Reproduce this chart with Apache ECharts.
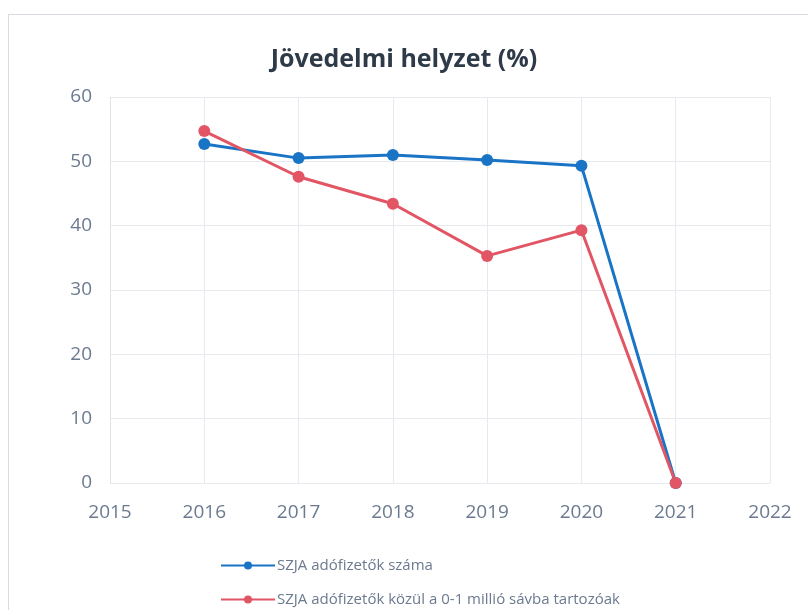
<!DOCTYPE html>
<html>
<head>
<meta charset="utf-8">
<script src="https://cdn.jsdelivr.net/npm/echarts@6/dist/echarts.min.js"></script>
<style>
  html, body { margin: 0; padding: 0; background: #fff; }
  #chart { width: 808px; height: 610px; }
  .frame { position: absolute; left: 8px; top: 14px; width: 820px; height: 640px; border: 1px solid #d8dce2; }
</style>
</head>
<body>
<div class="frame"></div>
<div id="chart" style="position:absolute;left:0;top:0;"></div>
<script>
// 年份与两条数据序列
const years = [2016, 2017, 2018, 2019, 2020, 2021];
const szjaCount = [52.7, 50.5, 51.0, 50.2, 49.3, 0];
const szjaLowBand = [54.7, 47.6, 43.4, 35.3, 39.3, 0];
const seriesNames = ['SZJA adófizetők száma', 'SZJA adófizetők közül a 0-1 millió sávba tartozóak'];

const chart = echarts.init(document.getElementById('chart'));

const toPairs = (vals) => years.map((y, i) => [y, vals[i]]);

chart.setOption({
  title: {
    text: 'Jövedelmi helyzet (%)',
    left: 'center',
    top: 42,
    textStyle: { fontFamily: 'Open Sans', fontSize: 25, fontWeight: 'bold', color: '#2e3a48' }
  },
  legend: {
    orient: 'vertical',
    left: 220,
    top: 558,
    height: 120,
    padding: 0,
    itemGap: 19,
    itemWidth: 54,
    itemHeight: 10,
    textStyle: { fontFamily: 'Open Sans', fontSize: 15, color: '#6b7a8f', padding: [0, 0, 0, -3] },
    data: seriesNames
  },
  grid: { left: 110, right: 38, top: 97, bottom: 127 },
  xAxis: {
    type: 'value',
    min: 2015,
    max: 2022,
    interval: 1,
    axisLine: { show: false },
    axisTick: { show: false },
    splitLine: { lineStyle: { color: '#e6e9ee' } },
    axisLabel: { fontFamily: 'Open Sans', fontSize: 19, color: '#6b7a8f', margin: 20, formatter: v => String(v) }
  },
  yAxis: {
    type: 'value',
    min: 0,
    max: 60,
    interval: 10,
    axisLine: { show: true, lineStyle: { color: '#e0e4ea' } },
    axisTick: { show: false },
    splitLine: { lineStyle: { color: '#e6e9ee' } },
    axisLabel: { fontFamily: 'Open Sans', fontSize: 19, color: '#6b7a8f', margin: 18 }
  },
  series: [
    {
      name: seriesNames[0],
      type: 'line',
      data: toPairs(szjaCount),
      symbol: 'circle',
      symbolSize: 12,
      itemStyle: { color: '#1a74c6' },
      lineStyle: { color: '#1a74c6', width: 3 }
    },
    {
      name: seriesNames[1],
      type: 'line',
      data: toPairs(szjaLowBand),
      symbol: 'circle',
      symbolSize: 12,
      z: 3,
      itemStyle: { color: '#e25564' },
      lineStyle: { color: '#e25564', width: 3 }
    }
  ]
});
</script>
</body>
</html>
